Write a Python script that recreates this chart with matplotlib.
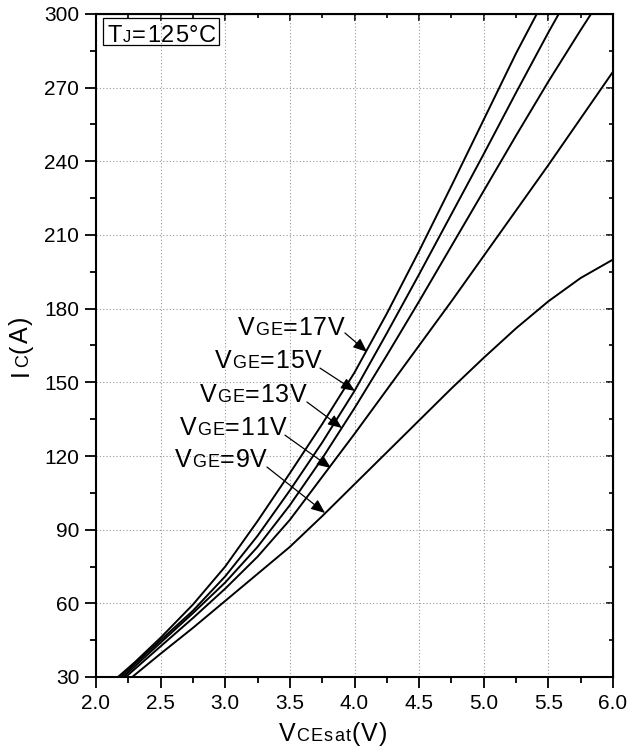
import matplotlib
matplotlib.use("Agg")
import matplotlib.pyplot as plt
from matplotlib.transforms import Affine2D
from matplotlib.patches import Rectangle
from matplotlib.ticker import MultipleLocator
from matplotlib.font_manager import findfont, FontProperties
from matplotlib.ft2font import FT2Font

FONT = ["Liberation Sans", "DejaVu Sans"]
plt.rcParams['font.family'] = FONT

# ---- data ----
vce_17 = [2.17, 2.30, 2.50, 2.75, 3.00, 3.25, 3.50, 3.75, 4.00, 4.25, 4.50, 4.75, 5.00, 5.25, 5.41]
ic_17 = [30, 36, 46, 59.5, 75, 93.5, 113, 133, 154, 178, 203.5, 230, 257, 284, 300]
vce_15 = [2.19, 2.50, 2.75, 3.00, 3.25, 3.50, 3.75, 4.00, 4.25, 4.50, 4.75, 5.00, 5.25, 5.50, 5.58]
ic_15 = [30, 45, 57, 71, 87.5, 106, 125.5, 146.5, 170, 194, 218.5, 243, 268, 292.5, 300]
vce_13 = [2.21, 2.50, 2.75, 3.00, 3.25, 3.50, 3.75, 4.00, 4.25, 4.50, 4.75, 5.00, 5.25, 5.50, 5.75, 5.83]
ic_13 = [30, 44, 56, 68.5, 83, 100, 119, 139.5, 161, 183, 205.5, 228, 250.5, 272.5, 293.5, 300]
vce_11 = [2.23, 2.50, 2.75, 3.00, 3.25, 3.50, 3.75, 4.00, 4.25, 4.50, 4.75, 5.00, 5.25, 5.50, 5.75, 6.00]
ic_11 = [30, 42.5, 54, 66, 79, 94, 111.5, 129, 147, 165, 183, 201.5, 220, 238.5, 257.5, 276.5]
vce_9 = [2.28, 2.50, 2.75, 3.00, 3.25, 3.50, 3.75, 4.00, 4.25, 4.50, 4.75, 5.00, 5.25, 5.50, 5.75, 6.00]
ic_9 = [30, 39.5, 50, 61, 72, 83, 95.5, 108.5, 121.5, 134.5, 147.5, 160, 172, 183, 192.5, 200]

series = [(vce_17, ic_17), (vce_15, ic_15), (vce_13, ic_13), (vce_11, ic_11), (vce_9, ic_9)]
labels_v = ["17V", "15V", "13V", "11V", "9V"]

x_ticks = [2.0, 2.5, 3.0, 3.5, 4.0, 4.5, 5.0, 5.5, 6.0]
y_ticks = [30, 60, 90, 120, 150, 180, 210, 240, 270, 300]

fig = plt.figure(figsize=(6.4, 7.48), dpi=100)
ax = fig.add_axes([96/640, (748-677)/748, (613-96)/640, (677-14)/748])

for xs, ys in series:
    ax.plot(xs, ys, color='black', lw=1.4, solid_joinstyle='round', zorder=3)

ax.set_xlim(2.0, 6.0)
ax.set_ylim(30, 300)
ax.set_xticks(x_ticks)
ax.set_yticks(y_ticks)
ax.set_xticklabels([f"{v:.1f}" for v in x_ticks])
ax.set_yticklabels([str(v) for v in y_ticks])
ax.xaxis.set_minor_locator(MultipleLocator(0.25))
ax.yaxis.set_minor_locator(MultipleLocator(15))
ax.tick_params(which='major', direction='out', length=8, width=1.3, labelsize=15, pad=4,
               top=False, right=False)
ax.tick_params(which='minor', direction='out', length=4, width=1.3, top=False, right=False)
ax.grid(True, which='major', color='#999999', linestyle=(0, (1, 2)), lw=0.8)
for s in ax.spines.values():
    s.set_linewidth(1.5)

ax2 = ax.secondary_xaxis('top')
ax2.set_xticks(x_ticks)
ax2.set_xticklabels([])
ax2.xaxis.set_minor_locator(MultipleLocator(0.25))
ax2.tick_params(which='major', direction='in', length=5, width=1.2)
ax2.tick_params(which='minor', direction='in', length=3, width=1.2)
ay2 = ax.secondary_yaxis('right')
ay2.set_yticks(y_ticks)
ay2.set_yticklabels([])
ay2.yaxis.set_minor_locator(MultipleLocator(15))
ay2.tick_params(which='major', direction='in', length=5, width=1.2)
ay2.tick_params(which='minor', direction='in', length=3, width=1.2)

_font = FT2Font(findfont(FontProperties(family=FONT)))


def advance(ch, size):
    _font.set_size(size, 100)
    g = _font.load_char(ord(ch))
    return g.linearHoriAdvance / 65536.0


def rich(x, y, pieces, transform, rotation=0, ha='left', va='baseline', track=0.0):
    chars = []
    for s, size in pieces:
        for ch in s:
            chars.append((ch, size, advance(ch, size) + track))
    total = sum(c[2] for c in chars) - track
    off = {'left': 0, 'center': -total / 2, 'right': -total}[ha]
    for ch, size, w in chars:
        dx, dy = (off, 0) if rotation == 0 else (0, off)
        tr = transform + Affine2D().translate(dx, dy)
        fig.text(x, y, ch, fontsize=size, transform=tr, rotation=rotation,
                 rotation_mode='anchor', ha='left', va=va, zorder=5)
        off += w


BIG, SMALL = 18, 13

text_pos = [(3.099, 169.3), (2.921, 155.8), (2.805, 142.0), (2.650, 128.5), (2.611, 115.5)]
arrow_start = [(3.926, 170.1), (3.733, 155.8), (3.632, 142.0), (3.462, 128.5), (3.323, 115.5)]
arrow_tip = [(4.097, 162.4), (4.004, 146.5), (3.903, 131.4), (3.818, 115.1), (3.772, 96.8)]

for lab, (tx, ty), st, tp in zip(labels_v, text_pos, arrow_start, arrow_tip):
    rich(tx, ty, [("V", BIG), ("GE", SMALL), ("=" + lab, BIG)], ax.transData, track=0.8)
    ax.annotate("", xy=tp, xytext=st,
                arrowprops=dict(arrowstyle='-|>,head_length=0.6,head_width=0.25',
                                color='black', lw=0.9, shrinkA=0, shrinkB=0,
                                mutation_scale=14), zorder=4)

ax.add_patch(Rectangle(((103-96)/517, (677-45)/663), (219-103)/517, 27/663,
                       transform=ax.transAxes, fill=False, lw=0.9, ec='black', zorder=5))
rich((108-96)/517, (677-41.5)/663, [("T", 17), ("J", 12), ("=125°C", 17)], ax.transAxes, track=0.8)

rich(333/640, (748-741)/748, [("V", 18), ("CEsat", 13), ("(V)", 18)], fig.transFigure,
     ha='center', track=1.2)
rich(28/640, (748-346)/748, [("I", 18), ("C", 13), ("(A)", 18)], fig.transFigure,
     rotation=90, ha='center', track=1.5)

fig.savefig("out.png", dpi=100)
